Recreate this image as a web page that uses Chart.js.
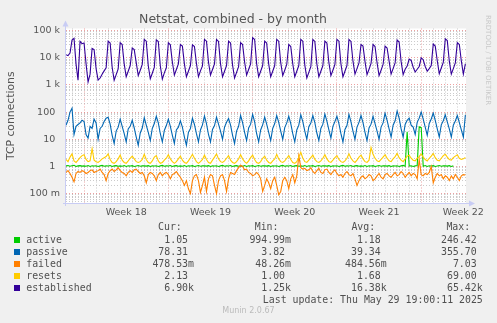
<!DOCTYPE html>
<html>
<head>
<meta charset="utf-8">
<title>Netstat, combined - by month</title>
<script src="https://cdn.jsdelivr.net/npm/chart.js@4/dist/chart.umd.min.js"></script>
<style>
  html, body { margin: 0; padding: 0; background: #f0f0f0; }
  #wrap { position: relative; width: 497px; height: 323px; overflow: hidden; }
  #c { position: absolute; left: 0; top: 0; }
  .t { position: absolute; font-family: "DejaVu Sans Mono", monospace; font-size: 9.9px;
       line-height: 12px; color: #505050; white-space: pre; }
  .sq { position: absolute; width: 6px; height: 6px; }
  #rrd { position: absolute; left: 484px; top: 15px; writing-mode: vertical-rl;
         font-family: "DejaVu Sans", sans-serif; font-size: 7px; color: #c8c8c8; }
  #munin { position: absolute; left: 0; width: 497px; top: 306px; text-align: center;
           font-family: "DejaVu Sans", sans-serif; font-size: 8px; color: #bbbbbb; }
</style>
</head>
<body>
<div id="wrap">
  <canvas id="c" width="497" height="323"></canvas>
  <div id="legend"></div>
  <div id="rrd">RRDTOOL / TOBI OETIKER</div>
  <div id="munin">Munin 2.0.67</div>
</div>
<script>
// one sample every 4 hours, first one on Sat Apr 26 12:00 (day -1.5 relative to Mon Apr 28)
const startDay = -1.5;
const samplesPerDay = 6;

const active = [
  1.05, 1.08, 1.02, 1.06, 1.1, 1.0, 1.05, 1.07, 1.03,
  1.05, 1.02, 1.08, 1.0, 1.06, 1.04,
  1.06, 1.0, 1.05, 1.09, 1.02, 1.05,
  1.04, 1.08, 1.0, 1.05, 1.07, 1.02,
  1.05, 1.02, 1.08, 1.0, 1.06, 1.04,
  1.07, 1.0, 1.04, 1.08, 1.02, 1.05,
  1.05, 1.03, 1.07, 1.0, 1.05, 1.04,
  1.06, 1.0, 1.05, 1.09, 1.02, 1.05,
  1.04, 1.08, 1.0, 1.05, 1.07, 1.02,
  1.05, 1.02, 1.08, 1.0, 1.06, 1.04,
  1.07, 1.0, 1.04, 1.08, 1.02, 1.05,
  1.05, 1.03, 1.07, 1.0, 1.05, 1.04,
  1.06, 1.0, 1.05, 1.09, 1.02, 1.05,
  1.04, 1.08, 1.0, 1.05, 1.07, 1.02,
  1.05, 1.02, 1.08, 1.0, 1.06, 1.04,
  1.07, 1.0, 1.04, 1.08, 1.02, 1.05,
  1.05, 1.03, 1.07, 1.0, 1.05, 1.04,
  1.06, 1.0, 1.05, 1.09, 1.02, 1.05,
  1.04, 1.08, 1.0, 1.05, 1.07, 1.02,
  1.05, 1.02, 1.08, 1.0, 1.06, 1.04,
  1.07, 1.0, 1.04, 1.08, 1.02, 1.05,
  1.05, 1.03, 1.07, 1.0, 1.05, 1.04,
  1.06, 1.0, 1.05, 1.09, 1.02, 1.05,
  1.04, 1.08, 1.0, 1.05, 1.07, 1.02,
  1.05, 1.02, 1.08, 1.0, 1.06, 1.04,
  1.07, 1.0, 1.04, 1.08, 1.02, 1.05,
  1.05, 1.03, 1.07, 1.0, 1.05, 1.04,
  1.06, 1.0, 1.05, 1.09, 1.02, 19,
  1.04, 1.06, 1.0, 1.05, 1.07, 29,
  27, 1.02, 1.08, 1.0, 1.06, 1.04,
  1.07, 1.0, 1.04, 1.08, 1.02, 1.05,
  1.05, 1.03, 1.07, 1.0, 1.05
];

const passive = [
  33, 50, 100, 140, 15, 30, 35, 40, 50,
  45, 15, 11, 30, 25, 55,
  40, 10, 25, 30, 45, 60,
  65, 36, 14, 7, 20, 28,
  55, 30, 16, 8, 24, 30,
  50, 26, 12, 6, 17, 26,
  62, 33, 18, 9, 25, 38,
  70, 40, 16, 8, 21, 32,
  55, 30, 14, 7, 22, 28,
  48, 28, 12, 6, 18, 25,
  60, 35, 16, 8, 22, 34,
  72, 38, 15, 8, 23, 32,
  65, 36, 20, 10, 28, 42,
  58, 33, 14, 7, 20, 30,
  75, 41, 18, 9, 26, 36,
  82, 44, 16, 8, 22, 34,
  65, 36, 18, 9, 25, 38,
  75, 42, 20, 10, 27, 40,
  70, 38, 16, 8, 22, 33,
  80, 45, 20, 10, 29, 40,
  75, 41, 17, 9, 25, 36,
  85, 47, 22, 11, 30, 45,
  70, 38, 16, 8, 23, 32,
  82, 44, 20, 10, 28, 42,
  75, 41, 18, 9, 26, 36,
  70, 38, 20, 10, 28, 40,
  90, 50, 24, 12, 33, 48,
  110, 60, 24, 12, 35, 50,
  60, 33, 28, 15, 42, 60,
  100, 55, 28, 14, 38, 56,
  92, 50, 24, 12, 34, 48,
  80, 44, 24, 12, 33, 47,
  75, 41, 22, 12, 78
];

const failed = [
  0.6, 0.7, 0.55, 0.4, 0.27, 0.55, 0.65, 0.6, 0.7, 0.65,
  0.55, 0.6, 0.7, 0.75, 0.6, 0.65, 0.7, 0.8, 0.6, 0.5,
  0.3, 0.55, 0.7, 0.8, 0.65, 0.75, 0.9, 0.7, 0.6, 0.55,
  0.45, 0.6, 0.7, 0.6, 0.75, 0.8, 0.65, 0.55, 0.6, 0.45,
  0.25, 0.5, 0.6, 0.55, 0.45, 0.3, 0.5, 0.6, 0.45, 0.55,
  0.6, 0.5, 0.35, 0.5, 0.55, 0.65, 0.5, 0.4, 0.3, 0.2,
  0.3, 0.15, 0.1, 0.3, 0.45, 0.5, 0.3, 0.11, 0.2, 0.4,
  0.12, 0.35, 0.5, 0.45, 0.2, 0.1, 0.3, 0.45, 0.5, 0.3,
  0.12, 0.35, 0.6, 0.55, 0.5, 0.7, 0.9, 1.1, 1.0, 0.75,
  0.8, 0.6, 0.55, 0.45, 0.5, 0.6, 0.5, 0.35, 0.12, 0.2,
  0.35, 0.25, 0.15, 0.3, 0.4, 0.2, 0.09, 0.12, 0.3, 0.4,
  0.3, 0.15, 0.35, 0.5, 0.25, 0.45, 2.5, 0.9, 0.8, 0.85,
  0.7, 0.75, 0.9, 0.65, 0.55, 0.7, 0.85, 0.6, 0.55, 0.75,
  0.8, 0.6, 0.5, 0.65, 0.75, 0.55, 0.45, 0.5, 0.4, 0.55,
  0.65, 0.5, 0.45, 0.55, 0.35, 0.2, 0.3, 0.4, 0.45, 0.35,
  0.4, 0.5, 0.45, 0.3, 0.35, 0.45, 0.55, 0.4, 0.35, 0.5,
  0.55, 0.45, 0.4, 0.5, 0.6, 0.45, 0.5, 0.65, 0.55, 0.4,
  0.5, 0.6, 0.45, 0.55, 0.5, 0.35, 1.8, 0.5, 0.45, 0.55,
  0.5, 0.6, 1.0, 0.25, 0.4, 0.55, 0.45, 0.5, 0.35, 0.45,
  0.4, 0.3, 0.45, 0.35, 0.5, 0.4, 0.3, 0.45, 0.5, 0.48
];

const resets = [
  1.8, 1.5, 2.2, 2.9, 1.6, 1.4, 1.7, 2.1, 2.5,
  2.7, 1.8, 1.5, 1.6, 4.5, 1.7,
  1.5, 1.4, 1.6, 1.9, 2.1, 2.3,
  2.9, 1.8, 1.4, 1.3, 1.5, 1.9,
  2.6, 1.7, 1.4, 1.3, 1.6, 2.0,
  2.4, 1.9, 1.5, 1.4, 1.5, 1.8,
  2.8, 1.8, 1.4, 1.3, 1.6, 2.2,
  2.5, 1.6, 1.3, 1.4, 1.7, 2.0,
  2.7, 1.9, 1.5, 1.3, 1.5, 1.9,
  2.4, 1.7, 1.4, 1.3, 1.6, 2.1,
  2.8, 2.0, 1.5, 1.3, 1.5, 1.8,
  2.6, 1.8, 1.4, 1.3, 1.7, 2.2,
  2.9, 1.9, 1.5, 1.4, 1.6, 2.0,
  2.5, 1.7, 1.4, 1.3, 1.5, 1.9,
  2.7, 1.9, 1.5, 1.3, 1.6, 2.1,
  2.6, 1.8, 1.4, 1.3, 1.5, 2.0,
  2.4, 1.7, 1.4, 1.3, 1.6, 1.9,
  2.8, 1.9, 1.5, 1.4, 1.6, 2.0,
  2.5, 1.8, 1.4, 1.3, 1.5, 2.2,
  3.3, 2.0, 1.5, 1.4, 1.7, 2.1,
  2.6, 1.8, 1.5, 1.4, 1.6, 2.0,
  2.7, 1.9, 1.5, 1.4, 1.7, 2.1,
  2.5, 1.8, 1.5, 1.4, 1.6, 2.0,
  2.9, 2.0, 1.6, 1.4, 1.7, 2.2,
  2.6, 1.9, 1.5, 1.4, 1.7, 5.0,
  2.8, 2.0, 1.6, 1.5, 1.8, 2.2,
  2.7, 2.0, 1.6, 1.5, 1.9, 2.3,
  3.0, 2.1, 1.7, 1.5, 1.9, 2.4,
  2.6, 2.0, 1.7, 1.6, 2.0, 2.3,
  2.9, 2.2, 1.8, 1.6, 2.0, 2.4,
  3.0, 2.1, 1.7, 1.6, 2.0, 2.5,
  2.8, 2.2, 1.8, 1.7, 2.1, 2.4,
  2.7, 2.0, 1.8, 1.9, 2.13
];

const established = [
  13000, 12000, 15000, 45000, 52000, 6000, 1500, 40000, 33000,
  35000, 6000, 1300, 2500, 22000, 20000,
  4000, 1500, 1800, 2500, 3300, 4300,
  41000, 35000, 4500, 1500, 2400, 3900,
  36000, 31000, 6000, 2000, 3200, 5200,
  23000, 20000, 6600, 2200, 3500, 5700,
  48000, 41000, 5100, 1700, 2700, 4400,
  46000, 40000, 5000, 1650, 2800, 4300,
  36000, 30000, 7000, 2300, 3700, 6000,
  31000, 27000, 6000, 2000, 3200, 5200,
  30000, 26000, 6200, 2000, 3300, 5000,
  48000, 41000, 7000, 2300, 3700, 6000,
  47000, 40000, 6000, 2000, 3200, 5200,
  41000, 35000, 5400, 1800, 2900, 4700,
  36000, 31000, 7000, 2300, 3700, 6000,
  55000, 47000, 6000, 2000, 3200, 5200,
  41000, 35000, 6000, 2000, 3200, 5200,
  48000, 41000, 6600, 2200, 3500, 5700,
  31000, 26000, 6000, 2000, 3200, 5200,
  48000, 41000, 5400, 1800, 2900, 4700,
  47000, 40000, 6000, 2000, 3200, 5200,
  41000, 35000, 6600, 2200, 3500, 5700,
  48000, 41000, 6000, 2000, 3200, 5200,
  47000, 40000, 7500, 2500, 4000, 6500,
  31000, 27000, 7200, 2400, 3800, 6200,
  31000, 26000, 6600, 2200, 3500, 5700,
  27000, 23000, 7500, 2500, 4000, 6500,
  45000, 38000, 7200, 2400, 3800, 5000,
  9000, 8000, 4500, 3000, 3800, 4800,
  10000, 8500, 4800, 3200, 4000, 5200,
  32000, 27000, 7800, 2600, 4200, 6800,
  50000, 43000, 7500, 2500, 4000, 6500,
  36000, 31000, 7500, 2500, 6000
];

const seriesNames = ["active", "passive", "failed", "resets", "established"];
const seriesColors = ["#00cc00", "#0066b3", "#ff8000", "#ffcc00", "#330099"];
const curVals = ["1.05 ", "78.31 ", "478.53m", "2.13 ", "6.90k"];
const minVals = ["994.99m", "3.82 ", "48.26m", "1.00 ", "1.25k"];
const avgVals = ["1.18 ", "39.34 ", "484.56m", "1.68 ", "16.38k"];
const maxVals = ["246.42 ", "355.70 ", "7.03 ", "69.00 ", "65.42k"];

const yTickValues = [0.1, 1, 10, 100, 1000, 10000, 100000];
const yTickLabels = ["100 m", "1\u2002", "10\u2002", "100\u2002", "1 k", "10 k", "100 k"];
const weekStarts = [0, 7, 14, 21, 28];            // Mondays, days from Apr 28
const weekLabels = ["Week 18", "Week 19", "Week 20", "Week 21", "Week 22"];

const dayOffsets = established.map((_, i) => startDay + i / samplesPerDay);
const allSeries = [active, passive, failed, resets, established];

// grid ticks
const yGrid = [];
for (let e = -2; e <= 4; e++) {
  for (let s = 1; s <= 9; s++) {
    const v = s * Math.pow(10, e);
    if (v >= 0.05 && v <= 100000) yGrid.push(v);
  }
}
yGrid.push(100000);
const dayLines = [];
for (let d = -1; d <= 31; d++) dayLines.push(d);
const weekLabelPos = weekStarts.map(w => w + 3.5);

const isDecade = v => Math.abs(Math.log10(v) - Math.round(Math.log10(v))) < 1e-9;
const majorGrid = "rgba(230,120,120,0.7)";
const minorGrid = "rgba(175,175,175,0.65)";

const frame = {
  id: "frame",
  beforeDraw(chart) {
    const { ctx, chartArea: a } = chart;
    ctx.save();
    ctx.fillStyle = "#ffffff";
    ctx.fillRect(a.left, a.top, a.right - a.left, a.bottom - a.top);
    ctx.restore();
  },
  afterDraw(chart) {
    const { ctx, chartArea: a } = chart;
    ctx.save();
    ctx.strokeStyle = ctx.fillStyle = "#c8ccf4";
    ctx.lineWidth = 1;
    ctx.beginPath();
    ctx.moveTo(a.left - 0.5, a.bottom + 3);
    ctx.lineTo(a.left - 0.5, a.top - 4);
    ctx.moveTo(a.left - 3, a.bottom + 0.5);
    ctx.lineTo(a.right + 5, a.bottom + 0.5);
    ctx.stroke();
    ctx.beginPath();
    ctx.moveTo(a.left - 0.5, a.top - 8);
    ctx.lineTo(a.left - 3.5, a.top - 2);
    ctx.lineTo(a.left + 2.5, a.top - 2);
    ctx.fill();
    ctx.beginPath();
    ctx.moveTo(a.right + 9, a.bottom + 0.5);
    ctx.lineTo(a.right + 3, a.bottom - 2.5);
    ctx.lineTo(a.right + 3, a.bottom + 3.5);
    ctx.fill();
    ctx.restore();
  }
};

new Chart(document.getElementById("c"), {
  type: "line",
  data: {
    datasets: allSeries.map((arr, k) => ({
      label: seriesNames[k],
      data: arr.map((v, i) => ({ x: dayOffsets[i], y: v })),
      borderColor: seriesColors[k],
      backgroundColor: seriesColors[k],
      borderWidth: 1.1,
      pointRadius: 0,
      tension: 0,
      fill: false,
      order: 5 - k
    }))
  },
  options: {
    responsive: false,
    devicePixelRatio: 1,
    animation: false,
    events: [],
    layout: { padding: { left: 0, right: 31, top: 0, bottom: 0 } },
    plugins: {
      legend: { display: false },
      tooltip: { enabled: false },
      title: {
        display: true,
        text: "Netstat, combined - by month",
        color: "#555555",
        font: { family: "DejaVu Sans", size: 12.5, weight: "normal" },
        padding: { top: 12, bottom: 1.5 }
      }
    },
    scales: {
      x: {
        type: "linear",
        min: startDay,
        max: 31.72,
        afterBuildTicks(s) {
          s.ticks = [-1].concat(weekLabelPos, dayLines.slice(1)).map(v => ({ value: v }));
        },
        afterFit(s) { s.height = 120; s.paddingLeft = 0; s.paddingRight = 0; },
        grid: {
          drawTicks: false,
          lineWidth: 1,
          color: c => {
            const v = c.tick.value;
            if (!Number.isInteger(v)) return "rgba(0,0,0,0)";
            return v % 7 === 0 ? majorGrid : minorGrid;
          }
        },
        border: { display: false, dash: [1, 2] },
        ticks: {
          autoSkip: false,
          maxRotation: 0,
          padding: 4,
          color: "#555555",
          font: { family: "DejaVu Sans", size: 9.5 },
          callback: v => {
            const k = weekLabelPos.indexOf(v);
            return k >= 0 ? weekLabels[k] : "";
          }
        }
      },
      y: {
        type: "logarithmic",
        min: 0.045,
        max: 120000,
        afterBuildTicks(s) { s.ticks = yGrid.map(v => ({ value: v })); },
        afterFit(s) { s.width = 66; s.paddingTop = 0; s.paddingBottom = 0; },
        grid: {
          drawTicks: false,
          lineWidth: 1,
          color: c => isDecade(c.tick.value) ? majorGrid : minorGrid
        },
        border: { display: false, dash: [1, 2] },
        title: {
          display: true,
          text: "TCP connections",
          color: "#555555",
          font: { family: "DejaVu Sans", size: 10.8 },
          padding: { top: 5, bottom: 0 }
        },
        ticks: {
          autoSkip: false,
          padding: 6,
          color: "#555555",
          font: { family: "DejaVu Sans", size: 9.5 },
          callback: v => {
            const k = yTickValues.findIndex(t => Math.abs(t - v) / t < 1e-9);
            return k >= 0 ? yTickLabels[k] : "";
          }
        }
      }
    }
  },
  plugins: [frame]
});

// legend table under the plot
const legend = document.getElementById("legend");
function addText(txt, left, right, centerY) {
  const el = document.createElement("div");
  el.className = "t";
  el.textContent = txt;
  el.style.top = (centerY - 6) + "px";
  if (left !== null) el.style.left = left + "px";
  if (right !== null) el.style.right = right + "px";
  legend.appendChild(el);
}
const headY = 227.3;
addText("Cur:", 158, null, headY);
addText("Min:", 254.7, null, headY);
addText("Avg:", 351.4, null, headY);
addText("Max:", 446.4, null, headY);
const colRight = [194, 291, 386.7, 482.6];
seriesNames.forEach((name, k) => {
  const cy = 240 + k * 11.95;
  const sq = document.createElement("div");
  sq.className = "sq";
  sq.style.left = "14px";
  sq.style.top = (cy - 3) + "px";
  sq.style.background = seriesColors[k];
  legend.appendChild(sq);
  addText(name, 26.2, null, cy);
  [curVals, minVals, avgVals, maxVals].forEach((col, j) => {
    addText(col[k], null, 497 - colRight[j], cy);
  });
});
addText("Last update: Thu May 29 19:00:11 2025", null, 497 - 482.8, 300);
</script>
</body>
</html>
